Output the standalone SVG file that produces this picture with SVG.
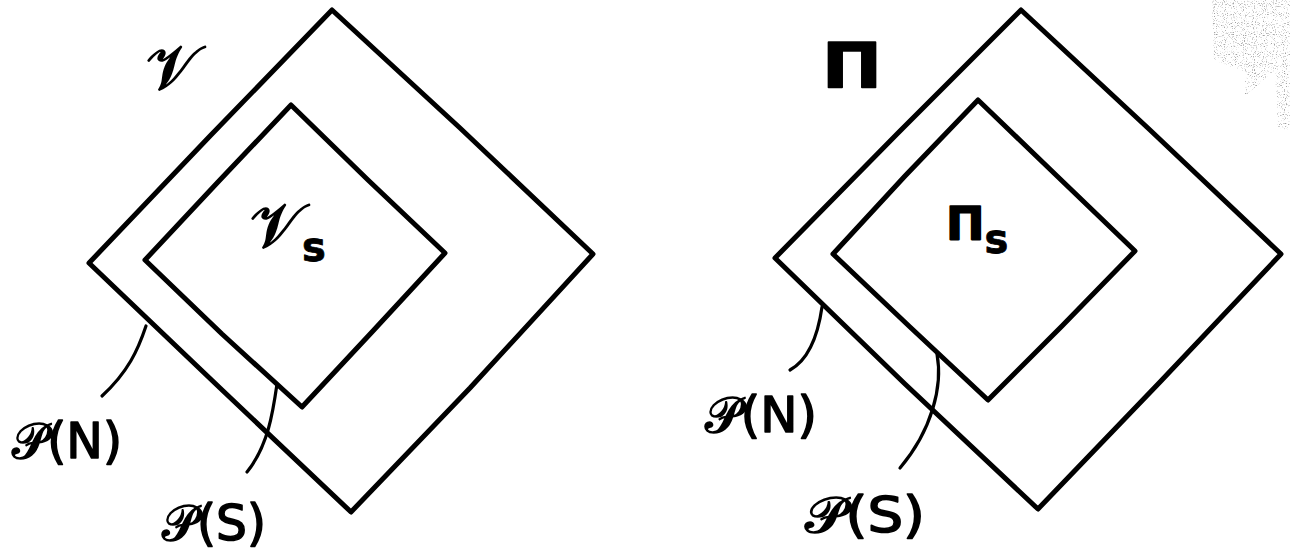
<svg xmlns="http://www.w3.org/2000/svg" width="1290" height="550" viewBox="0 0 1290 550">
  <style>
    .box { fill: none; stroke: #000; stroke-width: 5; stroke-linejoin: round; stroke-linecap: round; }
    .lead { fill: none; stroke: #000; stroke-width: 3.2; stroke-linecap: round; }
    .lbl { font-family: "DejaVu Sans", "Noto Sans", sans-serif; fill: #000; stroke: #000; stroke-width: 1.6; stroke-linejoin: round; }
    .big { font-size: 62px; }
    .pl { font-size: 50px; }
    .sub { font-size: 40px; font-weight: bold; stroke-width: 0.8; }
  </style>
  <defs>
    <filter id="speckle" x="0" y="0" width="100%" height="100%">
      <feTurbulence type="fractalNoise" baseFrequency="0.9" numOctaves="1" seed="5" result="n"/>
      <feColorMatrix in="n" type="matrix" values="0 0 0 0 0.35  0 0 0 0 0.35  0 0 0 0 0.35  5 0 0 0 -2.8"/>
    </filter>
    <clipPath id="scan">
      <polygon points="1212,0 1290,0 1290,130 1278,128 1275,70 1245,96 1245,72 1214,60"/>
    </clipPath>
  </defs>

  <rect width="1290" height="550" fill="#fff"/>
  <g id="scan-noise" clip-path="url(#scan)">
    <rect x="1205" y="0" width="85" height="135" fill="#fff" filter="url(#speckle)"/>
  </g>

  <!-- Left figure -->
  <g id="V-outer">
    <polygon class="box" points="332,10 460,128 593,254 470,388 351,512 220,388 89,263 210,136"/>
    <text class="lbl big" x="146" y="89">𝒱</text>
  </g>
  <g id="V-inner">
    <polygon class="box" points="291,105 368,180 445,253 372,332 302,407 222,334 145,260 218,182"/>
    <text class="lbl big" x="250" y="247">𝒱<tspan class="sub" dy="14">s</tspan></text>
  </g>
  <g id="PN-left">
    <text class="lbl pl" x="12" y="458" textLength="110" lengthAdjust="spacingAndGlyphs">𝒫(N)</text>
  </g>
  <g id="PS-left">
    <text class="lbl pl" x="162" y="540" textLength="104" lengthAdjust="spacingAndGlyphs">𝒫(S)</text>
  </g>

  <!-- Right figure -->
  <g id="Pi-outer">
    <polygon class="box" points="1021,10 1150,130 1281,254 1160,382 1038,509 905,384 775,258 898,133"/>
    <text class="lbl big" x="822" y="88" font-weight="bold" textLength="60" lengthAdjust="spacingAndGlyphs">Π</text>
  </g>
  <g id="Pi-inner">
    <polygon class="box" points="978,100 1057,176 1135,251 1062,326 988,400 910,327 833,254 905,176"/>
    <text class="lbl" x="946" y="240"><tspan font-size="46" font-weight="bold">Π</tspan><tspan class="sub" dy="13">s</tspan></text>
  </g>
  <g id="PN-right">
    <text class="lbl pl" x="705" y="432" textLength="112" lengthAdjust="spacingAndGlyphs">𝒫(N)</text>
  </g>
  <g id="PS-right">
    <text class="lbl pl" x="805" y="532" textLength="120" lengthAdjust="spacingAndGlyphs">𝒫(S)</text>
  </g>

  <!-- Leader lines -->
  <g id="connectors">
    <path class="lead" d="M146,326 C 138,350 128,372 102,396"/>
    <path class="lead" d="M277,384 C 273,412 268,446 247,472"/>
    <path class="lead" d="M822,307 C 818,335 808,360 790,370"/>
    <path class="lead" d="M937,354 C 943,386 932,430 900,468"/>
  </g>
</svg>
